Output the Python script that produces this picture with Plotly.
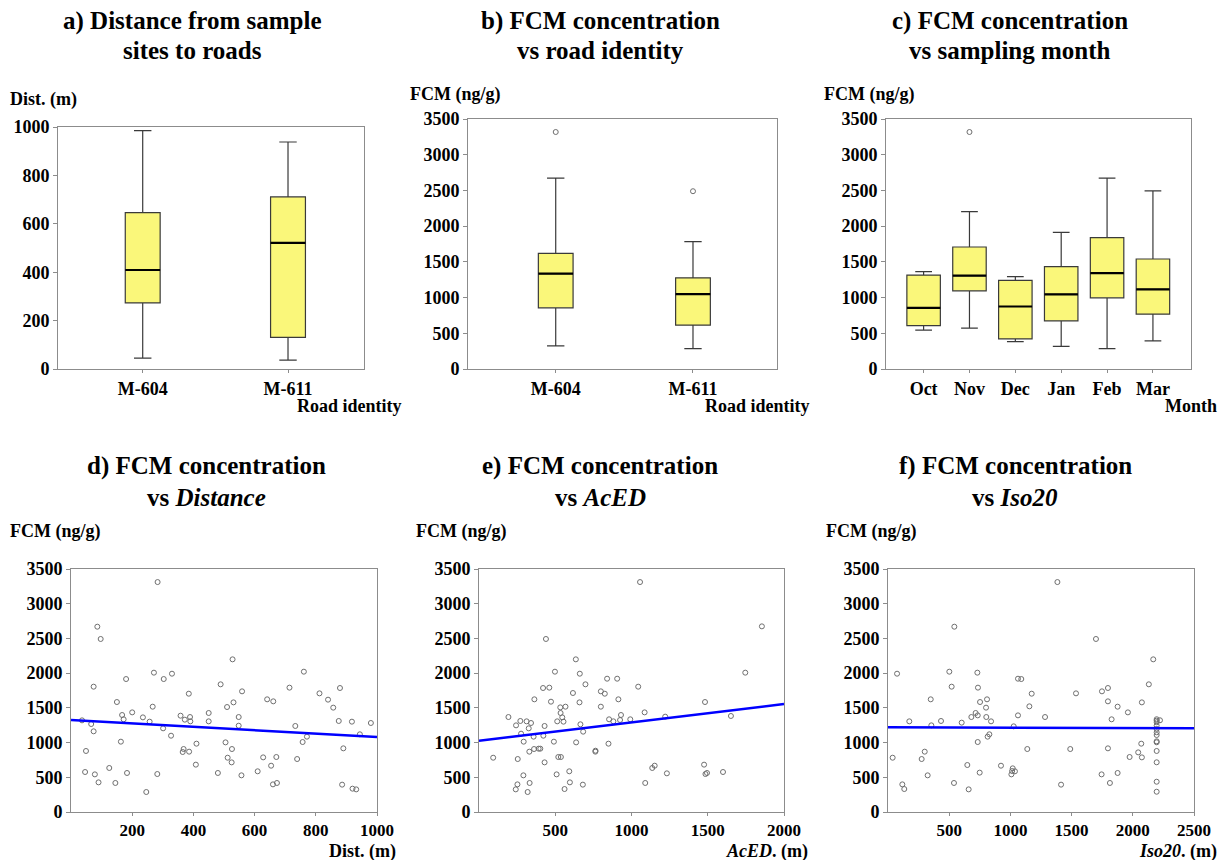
import numpy as np
import plotly.graph_objects as go

# ---------------- data ----------------
roads = ["M-604", "M-611"]
dist_q1 = [273, 131]
dist_med = [409, 521]
dist_q3 = [646, 711]
dist_lo = [45, 37]
dist_hi = [985, 938]

road_fcm_q1 = [856, 613]
road_fcm_med = [1334, 1048]
road_fcm_q3 = [1619, 1277]
road_fcm_lo = [323, 285]
road_fcm_hi = [2672, 1783]
road_out_x = ["M-604", "M-611"]
road_out_y = [3318, 2489]

months = ["Oct", "Nov", "Dec", "Jan", "Feb", "Mar"]
month_q1 = [608, 1095, 421, 674, 997, 767]
month_med = [856, 1306, 875, 1044, 1343, 1114]
month_q3 = [1315, 1708, 1240, 1432, 1839, 1540]
month_lo = [543, 571, 384, 318, 285, 393]
month_hi = [1362, 2204, 1292, 1914, 2672, 2494]
month_out_x = ["Nov"]
month_out_y = [3318]

dist_d = [36, 46, 49, 66, 74, 74, 78, 86, 90, 97, 125, 145, 150, 163, 167, 172, 180, 183, 200, 235,
          246, 257, 267, 271, 283, 282, 301, 303, 327, 330, 358, 365, 368, 372, 385, 386, 389, 390, 408, 410,
          450, 450, 480, 489, 505, 510, 512, 525, 526, 528, 531, 548, 548, 557, 559, 610, 628, 641, 654, 661,
          660, 671, 673, 714, 733, 739, 757, 761, 771, 812, 840, 857, 875, 879, 886, 890, 918, 920, 932, 944, 980]
fcm_d = [1320, 576, 879, 1267, 1805, 1162, 542, 2669, 427, 2492, 634, 418, 1584, 1013, 1397, 1335, 1915, 562, 1435, 1363,
         288, 1301, 1517, 2007, 3312, 547, 1205, 1915, 1099, 1992, 1387, 864, 907, 1330, 1704, 869, 1368, 1306, 682, 984,
         1426, 1306, 562, 1839, 1003, 1512, 782, 715, 907, 2199, 1579, 1368, 1243, 528, 1738, 586, 787, 1623, 667, 1594,
         398, 792, 418, 1791, 1239, 763, 1008, 2021, 1085, 1709, 1618, 1503, 1311, 1786, 394, 917, 1301, 336, 326, 1119, 1282]

aced_e = [93, 193, 241, 243, 252, 254, 271, 276, 291, 293, 312, 319, 326, 330, 332, 341, 358, 363, 361, 391,
          402, 420, 422, 430, 430, 439, 461, 472, 491, 498, 509, 513, 520, 537, 533, 535, 546, 554, 561, 567,
          592, 596, 616, 635, 637, 659, 661, 665, 681, 683, 698, 763, 764, 799, 799, 825, 840, 849, 853,
          881, 906, 914, 925, 931, 992, 1044, 1056, 1086, 1090, 1136, 1152, 1221, 1232, 1476, 1482, 1485, 1495,
          1600, 1652, 1746, 1855]
fcm_e = [782, 1368, 326, 1248, 398, 763, 1311, 1128, 528, 1013, 1306, 288, 1205, 869, 418, 1282, 1085, 1623, 907, 912,
         912, 1786, 1099, 715, 1239, 2492, 1791, 1589, 1013, 2021, 542, 1306, 792, 792, 1507, 1426, 1363, 1301, 331, 1517,
         586, 427, 1714, 2199, 1003, 1579, 1992, 1263, 394, 1157, 1839, 869, 883, 1517, 1738, 1704, 1920, 984, 1335,
         1306, 1920, 1623, 1325, 1397, 1335, 1805, 3312, 1435, 418, 634, 667, 1373, 557, 682, 1584, 547, 562,
         576, 1383, 2007, 2674]

iso_f = [38, 74, 117, 133, 174, 275, 300, 324, 349, 354, 433, 501, 520, 539, 542, 602, 648, 659, 681, 716,
         730, 733, 733, 735, 749, 752, 801, 803, 809, 814, 828, 842, 923, 1008, 1014, 1019, 1037, 1027, 1062, 1062,
         1089, 1138, 1155, 1174, 1283, 1384, 1414, 1489, 1536, 1699, 1745, 1748, 1797, 1797, 1797, 1813, 1827, 1876, 1876, 1960,
         1974, 2044, 2069, 2074, 2074, 2131, 2167,
         2195, 2195, 2195, 2195, 2195, 2195, 2195, 2195, 2195, 2195, 2195, 2195, 2195, 2222]
fcm_f = [782, 1992, 398, 331, 1306, 763, 869, 528, 1623, 1248, 1311, 2021, 1805, 418, 2669, 1287, 677, 326, 1368, 1426,
         2007, 1392, 1008, 1791, 567, 1584, 1503, 1368, 1623, 1085, 1119, 1306, 667, 542, 590, 629, 586, 1234, 1920, 1392,
         1915, 907, 1522, 1704, 1368, 3312, 394, 907, 1709, 2492, 542, 1738, 1786, 1594, 917, 418, 1335, 1517, 562, 1435,
         792, 859, 984, 1579, 787, 1839, 2199,
         1336, 1316, 1293, 1244, 1196, 1148, 1109, 1018, 1004, 879, 716, 436, 292, 1321]

# regression lines (intercept, slope)
fit_d = (1325, -0.245)
fit_e = (1027, 0.264)
fit_f = (1219, -0.0056)

xrange_d = [0, 1000]
xrange_e = [0, 2000]
xrange_f = [0, 2500]

# ---------------- styling ----------------
OFF = 8                      # page body margin
W, H = 1229 - OFF, 860 - OFF
FONT = "Liberation Serif"
BOX_FILL = "#FAF77A"
BOX_LINE = "#3a3a3a"
PT_COLOR = "#6f6f6f"
AX_COLOR = "#8c8c8c"


def px(x):
    return (x - OFF) / W


def py(y):
    return 1 - (y - OFF) / H


fig = go.Figure()
shapes = []


def add_box(cats, q1, med, q3, lo, hi, xa, ya, width):
    fig.add_trace(go.Box(
        x=cats, q1=q1, median=med, q3=q3, lowerfence=lo, upperfence=hi,
        fillcolor=BOX_FILL, line=dict(color=BOX_LINE, width=1.2),
        whiskerwidth=0.5, width=width, boxpoints=False,
        xaxis=xa, yaxis=ya, showlegend=False, hoverinfo="skip"))
    # thicker black median lines
    for i, m in enumerate(med):
        shapes.append(dict(type="line", xref=xa, yref=ya, x0=i - width / 2, x1=i + width / 2,
                           y0=m, y1=m, line=dict(color="black", width=2.2)))


def add_points(x, y, xa, ya):
    fig.add_trace(go.Scatter(
        x=x, y=y, mode="markers",
        marker=dict(symbol="circle-open", size=5, color=PT_COLOR, line=dict(width=1, color=PT_COLOR)),
        xaxis=xa, yaxis=ya, showlegend=False))


def add_fit(fit, xr, xa, ya):
    xs = np.array(xr, dtype=float)
    ys = fit[0] + fit[1] * xs
    fig.add_trace(go.Scatter(x=xs, y=ys, mode="lines", line=dict(color="#0000FF", width=2.5),
                             xaxis=xa, yaxis=ya, showlegend=False))


# a) distance boxes
add_box(roads, dist_q1, dist_med, dist_q3, dist_lo, dist_hi, "x", "y", 0.24)
# b) FCM by road
add_box(roads, road_fcm_q1, road_fcm_med, road_fcm_q3, road_fcm_lo, road_fcm_hi, "x2", "y2", 0.253)
add_points(road_out_x, road_out_y, "x2", "y2")
# c) FCM by month
add_box(months, month_q1, month_med, month_q3, month_lo, month_hi, "x3", "y3", 0.73)
add_points(month_out_x, month_out_y, "x3", "y3")
# d, e, f scatter
add_points(dist_d, fcm_d, "x4", "y4")
add_fit(fit_d, xrange_d, "x4", "y4")
add_points(aced_e, fcm_e, "x5", "y5")
add_fit(fit_e, xrange_e, "x5", "y5")
add_points(iso_f, fcm_f, "x6", "y6")
add_fit(fit_f, xrange_f, "x6", "y6")

tickfont = dict(family=FONT, size=18, color="black", weight="bold")
tickfont_x = dict(family=FONT, size=17, color="black", weight="bold")
common = dict(showline=True, linecolor=AX_COLOR, linewidth=1, mirror=True, ticks="outside",
              ticklen=4, tickcolor=AX_COLOR, showgrid=False, zeroline=False, tickfont=tickfont,
              automargin=False)

# plot-area pixel boxes in the reference: (left, right, top, bottom)
boxes = {
    1: (58, 364, 127, 369),
    2: (468, 777, 119, 369),
    3: (886, 1191, 119, 369),
    4: (71, 377, 569, 812),
    5: (479, 784, 569, 812),
    6: (888, 1194, 569, 812),
}


def dom(i):
    l, r, t, b = boxes[i]
    return [px(l), px(r)], [py(b), py(t)]


layout = dict(width=W, height=H, margin=dict(l=0, r=0, t=0, b=0, pad=0), autosize=False,
              template="none",
              paper_bgcolor="white", plot_bgcolor="white", showlegend=False,
              font=dict(family=FONT, color="black"))

yfcm = dict(range=[0, 3500], tickvals=[0, 500, 1000, 1500, 2000, 2500, 3000, 3500])
xspecs = {
    1: dict(type="category", categoryorder="array", categoryarray=roads, range=[-0.583, 1.523], ticklen=3),
    2: dict(type="category", categoryorder="array", categoryarray=roads, range=[-0.639, 1.612], ticklen=3),
    3: dict(type="category", categoryorder="array", categoryarray=months, range=[-0.82, 5.83], ticklen=3),
    4: dict(range=xrange_d, tickvals=[200, 400, 600, 800, 1000], ticklen=3, tickfont=tickfont_x),
    5: dict(range=xrange_e, tickvals=[500, 1000, 1500, 2000], ticklen=3, tickfont=tickfont_x),
    6: dict(range=xrange_f, tickvals=[500, 1000, 1500, 2000, 2500], ticklen=3, tickfont=tickfont_x),
}
yspecs = {
    1: dict(range=[0, 1000], tickvals=[0, 200, 400, 600, 800, 1000]),
    2: yfcm, 3: yfcm, 4: yfcm, 5: yfcm, 6: yfcm,
}
for i in range(1, 7):
    xd, yd = dom(i)
    sfx = "" if i == 1 else str(i)
    xa = dict(common); xa.update(xspecs[i]); xa.update(domain=xd, anchor="y" + sfx)
    ya = dict(common); ya.update(yspecs[i]); ya.update(domain=yd, anchor="x" + sfx)
    layout["xaxis" + sfx] = xa
    layout["yaxis" + sfx] = ya

layout["shapes"] = shapes
fig.update_layout(**layout)


def note(text, x, y, size=18, xanchor="left"):
    fig.add_annotation(text=text, x=px(x), y=py(y), xref="paper", yref="paper",
                       xanchor=xanchor, yanchor="middle", showarrow=False,
                       font=dict(family=FONT, size=size, color="black", weight="bold"))


# titles
note("a) Distance from sample", 192, 21, 25, "center")
note("sites to roads", 192, 50, 25, "center")
note("b) FCM concentration", 600, 21, 25, "center")
note("vs road identity", 600, 50, 25, "center")
note("c) FCM concentration", 1010, 21, 25, "center")
note("vs sampling month", 1010, 50, 25, "center")
note("d) FCM concentration", 207, 466, 25, "center")
note("vs <i>Distance</i>", 207, 497, 25, "center")
note("e) FCM concentration", 600, 466, 25, "center")
note("vs <i>AcED</i>", 600, 497, 25, "center")
note("f) FCM concentration", 1015, 466, 25, "center")
note("vs <i>Iso20</i>", 1015, 497, 25, "center")

# y-axis labels
note("Dist. (m)", 8, 99)
note("FCM (ng/g)", 408, 94)
note("FCM (ng/g)", 822, 94)
note("FCM (ng/g)", 8, 531)
note("FCM (ng/g)", 414, 531)
note("FCM (ng/g)", 824, 531)

# x-axis labels
note("Road identity", 404, 406, xanchor="right")
note("Road identity", 812, 406, xanchor="right")
note("Month", 1219, 406, xanchor="right")
note("Dist. (m)", 398, 851, xanchor="right")
note("<i>AcED</i>. (m)", 810, 851, xanchor="right")
note("<i>Iso20</i>. (m)", 1219, 851, xanchor="right")

fig.write_html("out.html")
